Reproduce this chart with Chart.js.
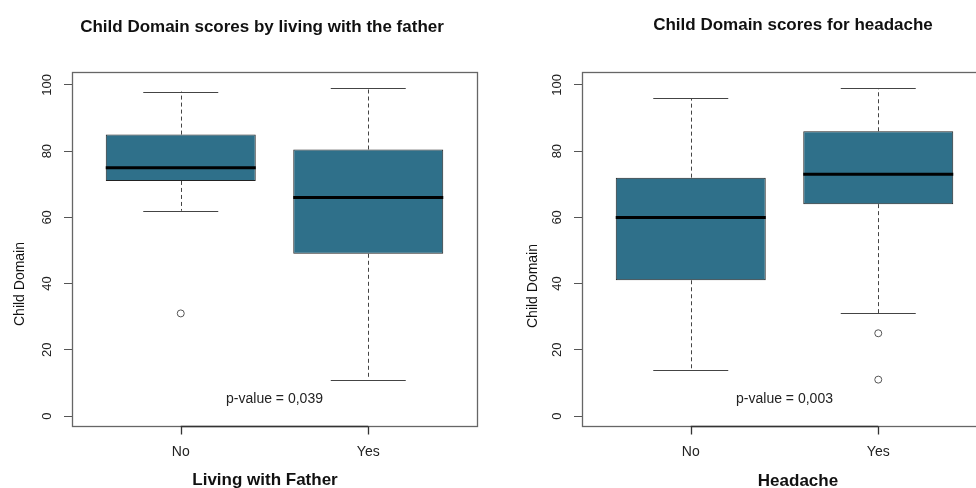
<!DOCTYPE html>
<html>
<head>
<meta charset="utf-8">
<script src="https://cdn.jsdelivr.net/npm/chart.js@4"></script>
<style>
  html, body { margin: 0; padding: 0; background: #fff; overflow: hidden; }
  .panel { position: absolute; top: 0; width: 510px; height: 488px; }
</style>
</head>
<body>
<div class="panel" style="left:0"><canvas id="fatherChart" width="510" height="488"></canvas></div>
<div class="panel" style="left:510px"><canvas id="headacheChart" width="510" height="488"></canvas></div>
<script>
var groups = ['No', 'Yes'];
var yTicks = [0, 20, 40, 60, 80, 100];

// living with the father
var fatherMin = [62, 11];
var fatherQ1 = [71, 49];
var fatherMedian = [75, 66];
var fatherQ3 = [85, 80.5];
var fatherMax = [98, 99];
var fatherOutliers = [[31], []];

// headache
var headacheMin = [14, 31];
var headacheQ1 = [41, 64];
var headacheMedian = [60, 73];
var headacheQ3 = [72, 86];
var headacheMax = [96, 99];
var headacheOutliers = [[], [25, 11]];

var titles = ['Child Domain scores by living with the father', 'Child Domain scores for headache'];
var xTitles = ['Living with Father', 'Headache'];
var yTitle = 'Child Domain';
var pValues = ['p-value = 0,039', 'p-value = 0,003'];

var FONT = '"Liberation Sans", Arial, sans-serif';
var BOX_FILL = '#2F708A';

function boxPlugin(stats, text) {
  return {
    id: 'boxExtras',
    afterDatasetsDraw: function(chart) {
      var ctx = chart.ctx, x = chart.scales.x, y = chart.scales.y;
      ctx.save();
      for (var i = 0; i < groups.length; i++) {
        var cx = Math.round(x.getPixelForValue(i + 1)) + 0.5;
        var c0 = x.getPixelForValue(i + 1 - 0.2), c1 = x.getPixelForValue(i + 1 + 0.2);
        var b0 = x.getPixelForValue(i + 1 - 0.4), b1 = x.getPixelForValue(i + 1 + 0.4);
        // whiskers
        ctx.strokeStyle = '#444';
        ctx.lineWidth = 1;
        ctx.setLineDash([4, 3]);
        ctx.beginPath();
        ctx.moveTo(cx, y.getPixelForValue(stats.q3[i]));
        ctx.lineTo(cx, y.getPixelForValue(stats.max[i]));
        ctx.moveTo(cx, y.getPixelForValue(stats.q1[i]));
        ctx.lineTo(cx, y.getPixelForValue(stats.min[i]));
        ctx.stroke();
        ctx.setLineDash([]);
        // caps
        ctx.beginPath();
        var yMax = Math.round(y.getPixelForValue(stats.max[i])) + 0.5;
        var yMin = Math.round(y.getPixelForValue(stats.min[i])) + 0.5;
        ctx.moveTo(c0, yMax); ctx.lineTo(c1, yMax);
        ctx.moveTo(c0, yMin); ctx.lineTo(c1, yMin);
        ctx.stroke();
        // median
        ctx.strokeStyle = '#000';
        ctx.lineWidth = 3;
        ctx.beginPath();
        var ym = y.getPixelForValue(stats.median[i]);
        ctx.moveTo(b0, ym); ctx.lineTo(b1, ym);
        ctx.stroke();
      }
      ctx.restore();
    },
    afterDraw: function(chart) {
      var ctx = chart.ctx, x = chart.scales.x, y = chart.scales.y;
      var a = chart.chartArea;
      var bottom = Math.round(a.bottom) + 0.5;
      ctx.save();
      // plot frame
      ctx.strokeStyle = '#666';
      ctx.lineWidth = 1.3;
      ctx.strokeRect(Math.round(a.left) + 0.5, Math.round(a.top) + 0.5, Math.round(a.right - a.left), Math.round(a.bottom - a.top));
      // x axis line between ticks, and tick marks
      ctx.strokeStyle = '#333';
      ctx.beginPath();
      ctx.moveTo(x.getPixelForValue(1), bottom);
      ctx.lineTo(x.getPixelForValue(2), bottom);
      for (var i = 0; i < groups.length; i++) {
        var tx = Math.round(x.getPixelForValue(i + 1)) + 0.5;
        ctx.moveTo(tx, bottom);
        ctx.lineTo(tx, bottom + 8);
      }
      ctx.stroke();
      // p-value
      ctx.fillStyle = '#222';
      ctx.font = '14px ' + FONT;
      ctx.textAlign = 'center';
      ctx.textBaseline = 'middle';
      ctx.fillText(text.p, x.getPixelForValue(1.5), y.getPixelForValue(5));
      // titles
      ctx.fillStyle = '#111';
      ctx.font = 'bold 17px ' + FONT;
      ctx.textBaseline = 'alphabetic';
      ctx.fillText(text.title, text.pos.tx, text.pos.ty);
      ctx.fillText(text.xTitle, text.pos.xx, text.pos.xy);
      ctx.font = '14px ' + FONT;
      ctx.translate(text.pos.yx, text.pos.yy);
      ctx.rotate(-Math.PI / 2);
      ctx.textBaseline = 'middle';
      ctx.fillText(yTitle, 0, 0);
      ctx.restore();
    }
  };
}

function makeChart(id, stats, text) {
  var outlierPoints = [];
  stats.out.forEach(function(list, i) {
    list.forEach(function(v) { outlierPoints.push({ x: i + 1, y: v }); });
  });
  return new Chart(document.getElementById(id), {
    type: 'bar',
    data: {
      datasets: [{
        label: 'box',
        data: groups.map(function(g, i) { return { x: i + 1, y: [stats.q1[i], stats.q3[i]] }; }),
        backgroundColor: BOX_FILL,
        borderColor: '#222',
        borderWidth: 1,
        borderSkipped: false,
        categoryPercentage: 1,
        barPercentage: 0.8
      }, {
        type: 'scatter',
        label: 'outliers',
        data: outlierPoints,
        pointStyle: 'circle',
        radius: 3.5,
        borderColor: '#555',
        backgroundColor: 'rgba(0,0,0,0)',
        borderWidth: 1
      }]
    },
    options: {
      responsive: false,
      animation: false,
      layout: { padding: { top: 72, right: 33, left: 0, bottom: 0 } },
      plugins: { legend: { display: false }, tooltip: { enabled: false }, title: { display: false } },
      scales: {
        x: {
          type: 'linear',
          min: 0.42,
          max: 2.58,
          offset: false,
          afterBuildTicks: function(s) { s.ticks = groups.map(function(g, i) { return { value: i + 1 }; }); },
          afterFit: function(s) { s.height = 62; },
          border: { display: false },
          grid: { display: false, drawTicks: true, tickLength: 8 },
          ticks: {
            padding: 10,
            color: '#222',
            font: { family: FONT, size: 14 },
            callback: function(v) { return groups[v - 1]; },
            autoSkip: false
          }
        },
        y: {
          min: -3,
          max: 103.9,
          afterBuildTicks: function(s) { s.ticks = yTicks.map(function(v) { return { value: v }; }); },
          afterFit: function(s) { s.width = 72; },
          border: { display: false },
          grid: { display: true, drawOnChartArea: false, drawTicks: true, tickLength: 8, color: '#555' },
          ticks: {
            minRotation: 90,
            maxRotation: 90,
            crossAlign: 'center',
            padding: 6,
            color: '#222',
            font: { family: FONT, size: 13 }
          }
        }
      }
    },
    plugins: [boxPlugin(stats, text)]
  });
}

makeChart('fatherChart',
  { min: fatherMin, q1: fatherQ1, median: fatherMedian, q3: fatherQ3, max: fatherMax, out: fatherOutliers },
  { title: titles[0], xTitle: xTitles[0], p: pValues[0], pos: { tx: 262, ty: 32, xx: 265, xy: 485, yx: 20, yy: 284 } });

makeChart('headacheChart',
  { min: headacheMin, q1: headacheQ1, median: headacheMedian, q3: headacheQ3, max: headacheMax, out: headacheOutliers },
  { title: titles[1], xTitle: xTitles[1], p: pValues[1], pos: { tx: 283, ty: 30, xx: 288, xy: 486, yx: 23, yy: 286 } });
</script>
</body>
</html>
